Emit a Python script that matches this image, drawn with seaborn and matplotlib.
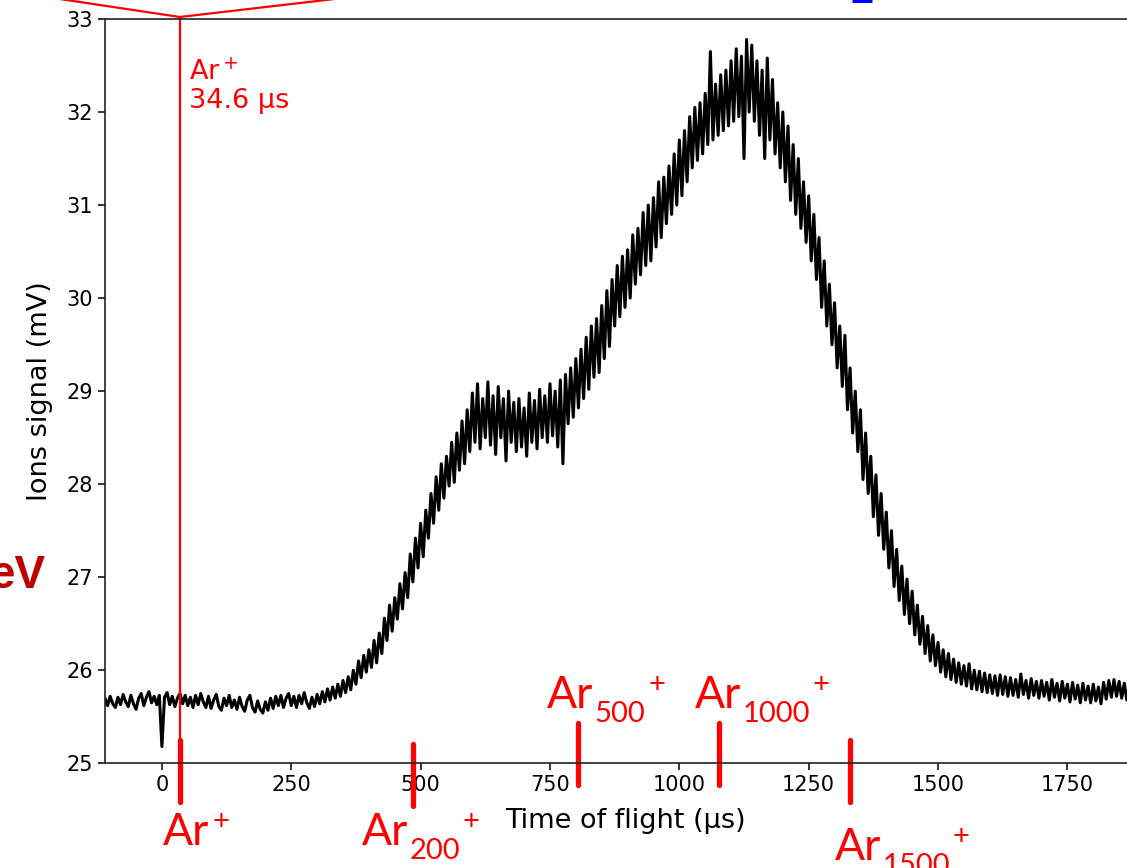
import numpy as np
import pandas as pd
import matplotlib
matplotlib.use("Agg")
import matplotlib.pyplot as plt
import matplotlib.transforms as mtransforms
from matplotlib.lines import Line2D
import seaborn as sns

# ion signal, one value every 5 us starting at -110 us
T_START, T_STEP = -110, 5
signal_mv = [
    25.70, 25.62, 25.72, 25.64, 25.60, 25.71, 25.63, 25.74, 25.66, 25.61,
    25.73, 25.64, 25.58, 25.70, 25.75, 25.62, 25.71, 25.77, 25.65, 25.72,
    25.63, 25.73, 25.18, 25.71, 25.76, 25.63, 25.72, 25.61, 25.70, 25.75,
    25.64, 25.73, 25.62, 25.71, 25.60, 25.73, 25.63, 25.75, 25.66, 25.60,
    25.72, 25.59, 25.68, 25.74, 25.61, 25.57, 25.70, 25.62, 25.73, 25.60,
    25.68, 25.58, 25.71, 25.61, 25.56, 25.68, 25.73, 25.60, 25.55, 25.67,
    25.58, 25.54, 25.66, 25.57, 25.70, 25.59, 25.72, 25.62, 25.73, 25.60,
    25.70, 25.75, 25.62, 25.72, 25.60, 25.73, 25.64, 25.76, 25.65, 25.59,
    25.71, 25.61, 25.74, 25.64, 25.77, 25.66, 25.80, 25.68, 25.82, 25.70,
    25.85, 25.72, 25.89, 25.76, 25.93, 25.79, 26.00, 25.85, 26.10, 25.92,
    26.16, 25.98, 26.22, 26.03, 26.32, 26.08, 26.40, 26.18, 26.56, 26.32,
    26.70, 26.42, 26.78, 26.55, 26.93, 26.66, 27.05, 26.78, 27.25, 26.95,
    27.42, 27.10, 27.58, 27.22, 27.72, 27.42, 27.90, 27.58, 28.08, 27.72,
    28.22, 27.85, 28.30, 27.98, 28.45, 28.02, 28.55, 28.15, 28.68, 28.22,
    28.80, 28.35, 28.98, 28.45, 29.08, 28.38, 28.92, 28.50, 29.10, 28.42,
    28.95, 28.32, 29.05, 28.50, 28.92, 28.25, 29.00, 28.45, 28.88, 28.35,
    28.92, 28.40, 28.82, 28.30, 28.98, 28.45, 28.90, 28.38, 29.02, 28.50,
    28.95, 28.45, 29.08, 28.52, 29.00, 28.40, 29.12, 28.22, 29.18, 28.65,
    29.25, 28.72, 29.35, 28.82, 29.45, 28.92, 29.58, 29.02, 29.70, 29.15,
    29.78, 29.20, 29.92, 29.35, 30.08, 29.48, 30.20, 29.70, 30.35, 29.80,
    30.45, 29.90, 30.52, 30.00, 30.68, 30.15, 30.75, 30.25, 30.92, 30.35,
    31.00, 30.40, 31.08, 30.55, 31.25, 30.65, 31.30, 30.80, 31.42, 30.90,
    31.55, 31.00, 31.70, 31.10, 31.80, 31.25, 31.95, 31.40, 32.05, 31.48,
    32.10, 31.55, 32.20, 31.65, 32.65, 31.70, 32.30, 31.75, 32.40, 31.80,
    32.45, 31.85, 32.55, 31.90, 32.68, 31.95, 32.60, 31.50, 32.78, 32.00,
    32.72, 31.90, 32.55, 31.75, 32.45, 31.50, 32.58, 31.70, 32.35, 31.55,
    32.10, 31.40, 32.00, 31.25, 31.85, 31.05, 31.65, 30.90, 31.50, 30.75,
    31.25, 30.60, 31.10, 30.40, 30.90, 30.20, 30.65, 29.90, 30.40, 29.70,
    30.15, 29.50, 29.95, 29.25, 29.70, 29.05, 29.60, 28.80, 29.25, 28.55,
    29.00, 28.35, 28.80, 28.05, 28.55, 27.90, 28.30, 27.65, 28.10, 27.45,
    27.90, 27.30, 27.70, 27.10, 27.50, 26.90, 27.30, 26.75, 27.12, 26.60,
    26.98, 26.50, 26.85, 26.38, 26.70, 26.28, 26.58, 26.18, 26.48, 26.10,
    26.38, 26.05, 26.30, 25.98, 26.22, 25.93, 26.18, 25.90, 26.12, 25.87,
    26.08, 25.85, 26.05, 25.83, 26.07, 25.80, 26.00, 25.79, 25.99, 25.77,
    25.97, 25.76, 25.95, 25.75, 25.94, 25.73, 25.95, 25.74, 25.93, 25.72,
    25.92, 25.73, 25.90, 25.71, 25.96, 25.74, 25.89, 25.70, 25.91, 25.73,
    25.88, 25.70, 25.89, 25.72, 25.87, 25.68, 25.90, 25.71, 25.86, 25.67,
    25.88, 25.70, 25.85, 25.66, 25.87, 25.69, 25.84, 25.65, 25.86, 25.68,
    25.83, 25.65, 25.85, 25.67, 25.82, 25.64, 25.87, 25.69, 25.89, 25.71,
    25.90, 25.72, 25.88, 25.70, 25.86, 25.68, 25.85,
]
time_us = T_START + T_STEP * np.arange(len(signal_mv))

# expected arrival times of Ar_n+ clusters
ion_times = [34.6, 486, 805, 1077, 1330]
ion_sizes = ["", "200", "500", "1000", "1500"]

x_ticks = [0, 250, 500, 750, 1000, 1250, 1500, 1750]
y_ticks = [25, 26, 27, 28, 29, 30, 31, 32, 33]

# label layout (figure pixels, measured from the top): Ar left edge, baseline, tick span
label_left = [163, 362, 547, 695, 835]
label_base = [845, 845, 708, 708, 860]
tick_span = [(740, 802), (744, 806), (723, 785), (723, 785), (740, 802)]

W, H = 1127, 868
RED = "#ff0000"

sns.set_style("ticks")
plt.rcParams["font.family"] = ["DejaVu Sans"]
plt.rcParams.update({"text.color": "black", "axes.labelcolor": "black",
                     "xtick.color": "black", "ytick.color": "black"})

fig = plt.figure(figsize=(W / 100, H / 100), dpi=100)
ax = fig.add_axes([105 / W, (H - 763.3) / H, (1145 - 105) / W, 744.3 / H])

df = pd.DataFrame({"t": time_us, "v": signal_mv})
sns.lineplot(data=df, x="t", y="v", color="black", linewidth=2.2,
             estimator=None, ax=ax)

ax.set_xlim(-110, 1900)
ax.set_ylim(25, 33)
ax.set_xticks(x_ticks)
ax.set_yticks(y_ticks)
ax.tick_params(labelsize=15, length=5, width=1.1)
for s in ax.spines.values():
    s.set_linewidth(1.2)
    s.set_color("#222222")
ax.set_xlabel("Time of flight (µs)", fontsize=19.5, labelpad=9)
ax.set_ylabel("Ions signal (mV)", fontsize=19.5, labelpad=10)

# Ar+ marker line with the two slanted lines at the top
blend = mtransforms.blended_transform_factory(ax.transData, fig.transFigure)
ax.plot([ion_times[0], ion_times[0]], [(H - 17) / H, (H - 740) / H],
        color=RED, lw=1.6, transform=blend, clip_on=False)
apex_x = ax.transData.transform((ion_times[0], 25))[0]
fig.add_artist(Line2D([apex_x - 180, apex_x, apex_x + 232],
                      [H + 10, H - 17, H + 10], color=RED, lw=1.6,
                      transform=mtransforms.IdentityTransform()))
ax.text(53, 32.57, "Ar$^+$\n34.6 µs", color=RED, fontsize=19.5,
        va="top", ha="left", linespacing=1.1)

# cluster ticks and labels below the axis
renderer = fig.canvas.get_renderer()
for t, n, x0, yb, (y0, y1) in zip(ion_times, ion_sizes, label_left,
                                  label_base, tick_span):
    ax.plot([t, t], [(H - y0) / H, (H - y1) / H], color=RED, lw=3.8,
            transform=blend, clip_on=False)
    ar = fig.text(x0 / W, (H - yb) / H, "Ar", color=RED, fontsize=32,
                  family="Lato", ha="left", va="baseline")
    x1 = ar.get_window_extent(renderer).x1
    if n:
        sub = fig.text((x1 + 1) / W, (H - yb - 14) / H, n, color=RED,
                       fontsize=21, family="Lato", ha="left", va="baseline")
        x1 = sub.get_window_extent(renderer).x1
    fig.text((x1 + 3) / W, (H - yb + 15) / H, "+", color=RED, fontsize=21,
             family="Lato", ha="left", va="baseline")

# bits of the slide around the plot
fig.text(45 / W, (H - 588) / H, "eV", color="#c00000", fontsize=33,
         fontweight="bold", family="Liberation Sans", ha="right",
         va="baseline")
fig.text(862 / W, (H - 3) / H, "2", color="#0000ff", fontsize=30,
         fontweight="bold", family="Liberation Sans", ha="center",
         va="baseline")

fig.savefig("out.png", dpi=100)
